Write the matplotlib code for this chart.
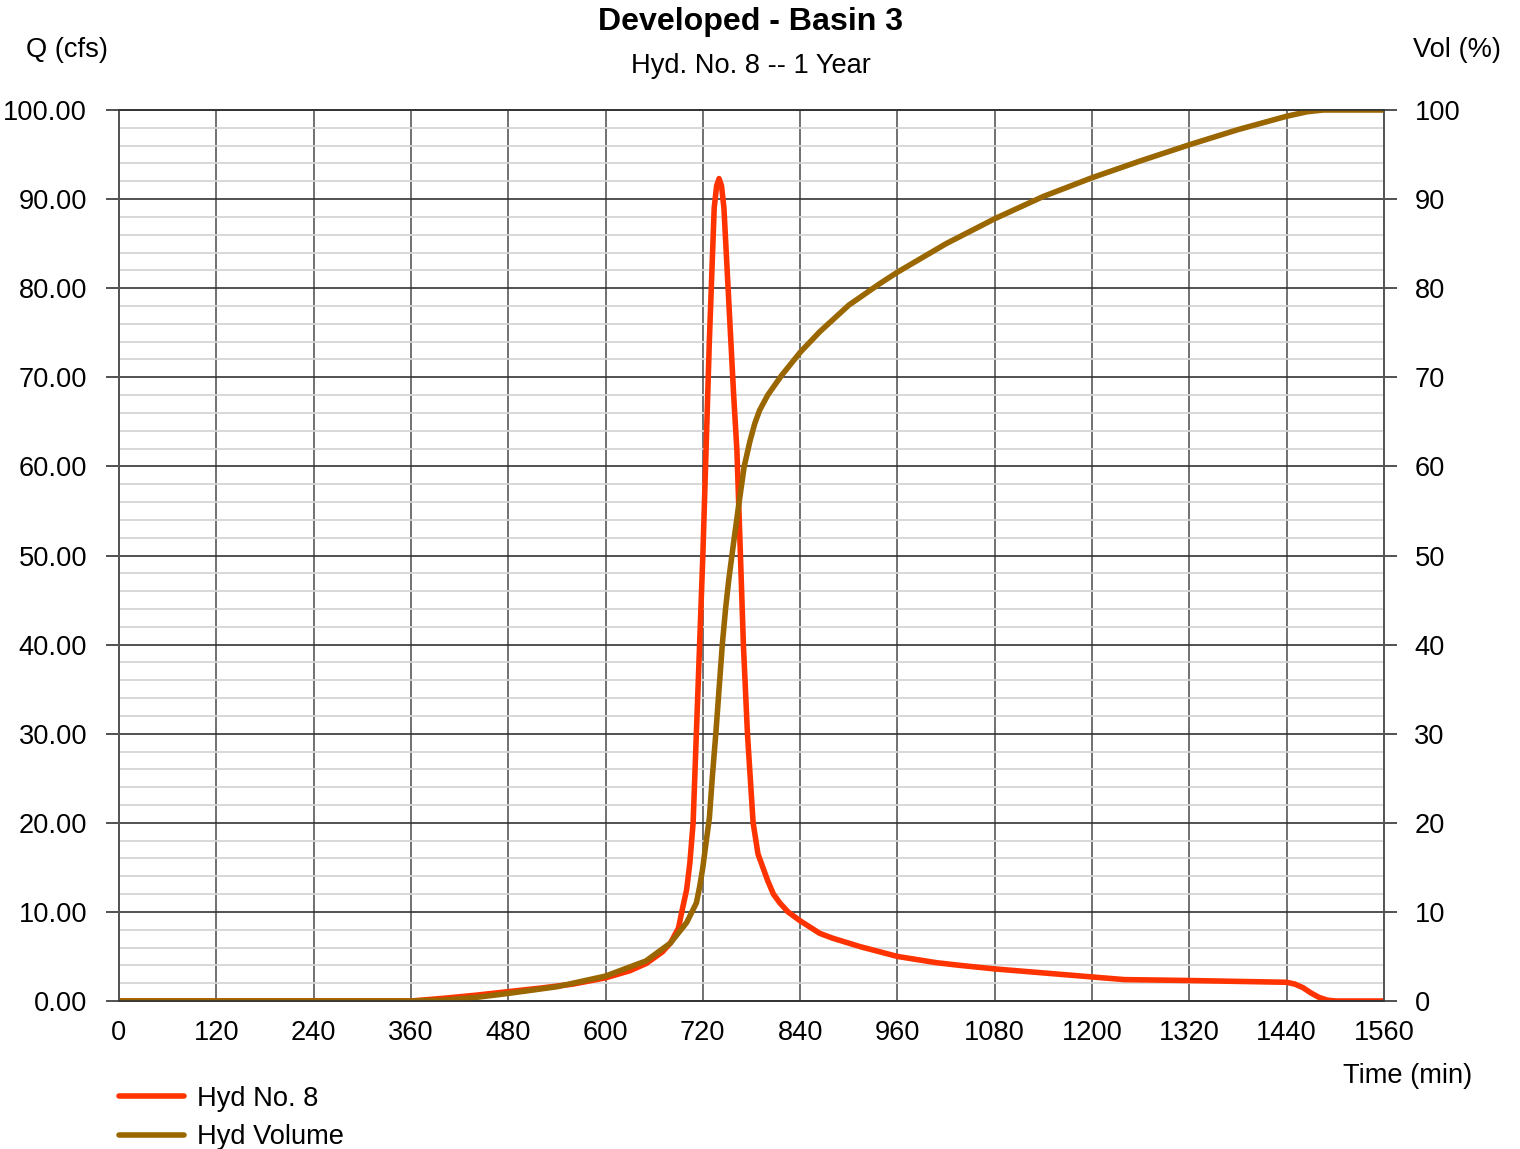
import numpy as np
import matplotlib
matplotlib.use("Agg")
import matplotlib.pyplot as plt
from matplotlib.ticker import MultipleLocator, FormatStrFormatter

plt.rcParams["font.family"] = ["Liberation Sans", "DejaVu Sans"]

# Hydrograph (cfs)
hyd_time = [0, 360, 400, 440, 480, 520, 560, 600, 630, 650, 670, 680, 690, 694,
            700, 704, 708, 712, 716, 720, 724, 728, 732, 734, 737, 740, 743, 746,
            750, 754, 758, 762, 766, 770, 775, 782, 788, 794, 800, 807, 815, 825,
            840, 864, 880, 914, 960, 1008, 1037, 1080, 1140, 1200, 1240, 1320,
            1380, 1440, 1450, 1460, 1470, 1480, 1490, 1500, 1560]
hyd_q = [0, 0, 0.3, 0.65, 1.05, 1.45, 1.9, 2.6, 3.4, 4.2, 5.5, 6.5, 8.2, 10,
         12.5, 15.5, 20, 30, 40, 50, 62, 74, 84, 89, 91.5, 92.3, 91.5, 89,
         82, 75, 68, 61.8, 51, 40, 30, 20, 16.5, 15, 13.5, 12, 11, 10,
         9.0, 7.6, 7.05, 6.1, 5.0, 4.3, 4.0, 3.6, 3.15, 2.7, 2.4, 2.3,
         2.2, 2.1, 1.9, 1.5, 0.9, 0.4, 0.1, 0, 0]

# Cumulative volume (%)
vol_time = [0, 360, 400, 440, 480, 540, 600, 650, 680, 700, 712, 716, 720, 724,
            728, 732, 736, 740, 744, 748, 752, 758, 764, 771, 778, 784, 790, 800,
            817, 840, 864, 900, 938, 960, 1020, 1080, 1140, 1200, 1260, 1320,
            1380, 1440, 1465, 1485, 1560]
vol_pct = [0, 0, 0.1, 0.4, 0.85, 1.6, 2.8, 4.5, 6.5, 8.8, 11, 12.8, 15, 17.8,
           20.5, 25.5, 30, 35, 40, 44, 47.3, 51.5, 55.5, 60, 62.8, 64.8, 66.3, 68.0,
           70.2, 72.8, 75.1, 78.1, 80.5, 81.8, 85.0, 87.8, 90.3, 92.4, 94.3, 96.1,
           97.8, 99.3, 99.8, 100, 100]

x_ticks = list(range(0, 1561, 120))

FS = 19.6

fig = plt.figure(figsize=(15.2, 11.49), dpi=100)
ax = fig.add_axes([119 / 1520, 1 - 1001 / 1149, 1265 / 1520, 891 / 1149])
ax2 = ax.twinx()

# grid
ax.set_xlim(0, 1560)
ax.set_ylim(0, 100)
ax2.set_ylim(0, 100)
ax.set_xticks(x_ticks)
ax.yaxis.set_major_locator(MultipleLocator(10))
ax.yaxis.set_minor_locator(MultipleLocator(2))
ax.yaxis.set_major_formatter(FormatStrFormatter("%.2f"))
ax2.yaxis.set_major_locator(MultipleLocator(10))
ax2.yaxis.set_major_formatter(FormatStrFormatter("%d"))

ax.grid(True, which="minor", axis="y", color="#d6d6d6", linewidth=1.3)
ax.grid(True, which="major", axis="y", color="#333333", linewidth=1.2)
ax.grid(True, which="major", axis="x", color="#666666", linewidth=1.3)
ax.set_axisbelow(True)

for a in (ax, ax2):
    for side in ("left", "right"):
        a.spines[side].set_color("#555555")
        a.spines[side].set_linewidth(1.3)
    for side in ("top", "bottom"):
        a.spines[side].set_color("#333333")
        a.spines[side].set_linewidth(1.2)

ax.tick_params(axis="y", which="major", length=9.4, width=1.2, color="#333333",
               labelsize=FS, pad=13.5)
ax.tick_params(axis="y", which="minor", length=0)
ax.tick_params(axis="x", length=0, labelsize=FS, pad=13.5)
ax2.tick_params(axis="y", which="major", length=9.4, width=1.2, color="#333333",
                labelsize=FS, pad=12.5)

l1, = ax.plot(hyd_time, hyd_q, color="#ff3300", linewidth=4.0,
              solid_capstyle="round", solid_joinstyle="round", label="Hyd No. 8")
l2, = ax2.plot(vol_time, vol_pct, color="#996600", linewidth=4.0,
               solid_capstyle="round", solid_joinstyle="round", label="Hyd Volume")

# texts
fig.text(751 / 1520, 1 - 22 / 1149, "Developed - Basin 3", ha="center", va="center",
         fontsize=23.1, fontweight="bold")
fig.text(751 / 1520, 1 - 66 / 1149, "Hyd. No. 8 -- 1 Year", ha="center", va="center",
         fontsize=FS)
fig.text(67 / 1520, 1 - 50 / 1149, "Q (cfs)", ha="center", va="center", fontsize=FS)
fig.text(1457 / 1520, 1 - 50 / 1149, "Vol (%)", ha="center", va="center", fontsize=FS)
fig.text(1408 / 1520, 1 - 1076 / 1149, "Time (min)", ha="center", va="center", fontsize=FS)

fig.legend(handles=[l1, l2], loc="upper left",
           bbox_to_anchor=(119 / 1520, 1 - 1086 / 1149), frameon=False,
           fontsize=FS, handlelength=2.4, handletextpad=0.48,
           labelspacing=0.45, borderpad=0, borderaxespad=0)

fig.savefig("out.png", dpi=100)
